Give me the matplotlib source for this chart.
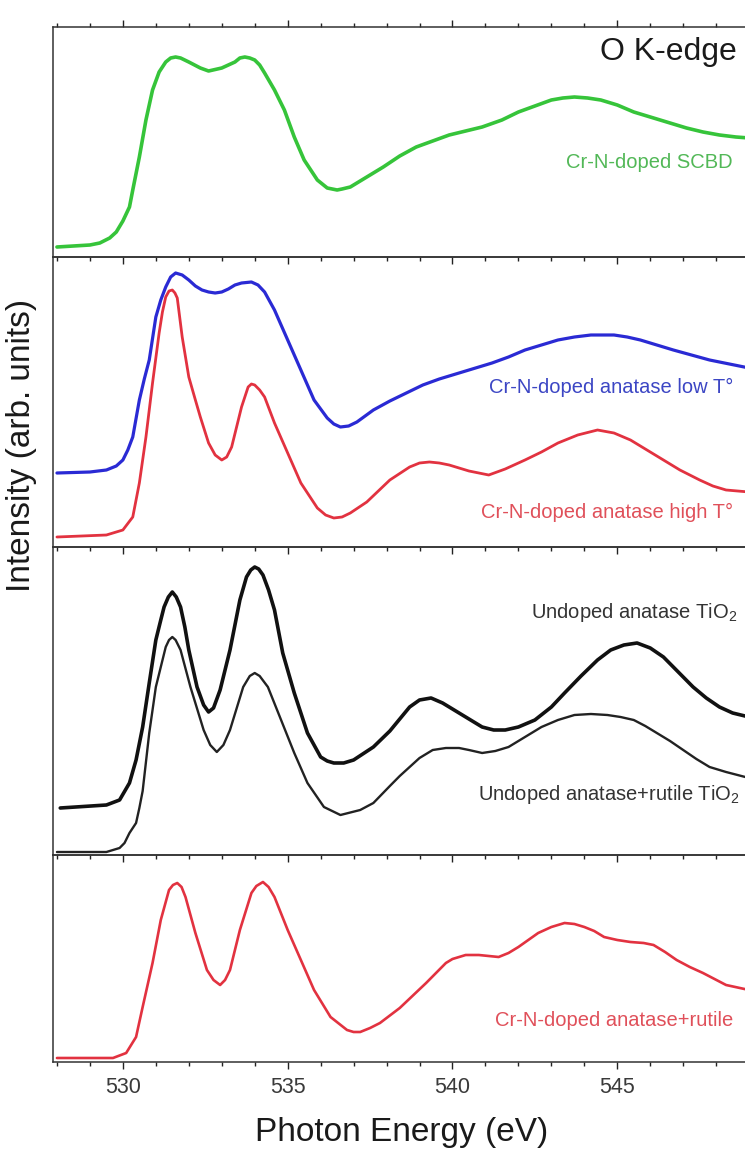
import matplotlib
matplotlib.use("Agg")
import matplotlib.pyplot as plt
from matplotlib.ticker import MultipleLocator

plt.rcParams['font.family'] = ['Liberation Sans', 'DejaVu Sans']
plt.rcParams['mathtext.fontset'] = 'custom'
plt.rcParams['mathtext.rm'] = 'Liberation Sans'
plt.rcParams['mathtext.it'] = 'Liberation Sans:italic'

# ---- O K-edge XAS spectra (photon energy in eV, intensity in arb. units) ----
e_scbd = [528.0, 529.0, 529.3, 529.6, 529.8, 530.0, 530.2, 530.3, 530.5, 530.7,
          530.9, 531.1, 531.3, 531.45, 531.6, 531.75, 532.0, 532.35, 532.6, 533.0,
          533.4, 533.55, 533.7, 533.85, 534.0, 534.15, 534.3, 534.6, 534.9, 535.2,
          535.5, 535.9, 536.2, 536.35, 536.5, 536.65, 536.9, 537.4, 537.9, 538.4,
          538.9, 539.4, 539.9, 540.4, 540.9, 541.5, 542.0, 542.5, 543.0, 543.35,
          543.7, 544.1, 544.5, 545.0, 545.5, 546.0, 546.6, 547.1, 547.6, 548.1,
          548.6, 549.0]
i_scbd = [0.10, 0.12, 0.14, 0.19, 0.25, 0.36, 0.50, 0.67, 1.00, 1.37,
          1.67, 1.85, 1.95, 1.99, 2.00, 1.99, 1.95, 1.89, 1.86, 1.89,
          1.95, 1.99, 2.00, 1.99, 1.97, 1.92, 1.84, 1.67, 1.47, 1.20,
          0.97, 0.77, 0.69, 0.68, 0.67, 0.68, 0.70, 0.80, 0.90, 1.01,
          1.10, 1.16, 1.22, 1.26, 1.30, 1.37, 1.45, 1.51, 1.57, 1.59,
          1.60, 1.59, 1.57, 1.52, 1.45, 1.40, 1.34, 1.29, 1.25, 1.22,
          1.20, 1.19]

e_lowT = [528.0, 529.0, 529.5, 529.8, 530.0, 530.15, 530.3, 530.5, 530.65, 530.8,
          531.0, 531.15, 531.3, 531.45, 531.6, 531.8, 532.0, 532.2, 532.4, 532.6,
          532.8, 533.0, 533.2, 533.4, 533.6, 533.9, 534.1, 534.3, 534.6, 535.0,
          535.4, 535.8, 536.2, 536.4, 536.6, 536.85, 537.1, 537.6, 538.1, 539.1,
          539.6, 540.2, 540.7, 541.2, 541.7, 542.2, 542.7, 543.2, 543.7, 544.2,
          544.9, 545.3, 545.7, 546.2, 546.7, 547.25, 547.8, 548.4, 549.0]
i_lowT = [0.74, 0.75, 0.77, 0.81, 0.87, 0.97, 1.10, 1.47, 1.68, 1.87,
          2.30, 2.47, 2.60, 2.70, 2.74, 2.72, 2.67, 2.61, 2.57, 2.55,
          2.54, 2.55, 2.58, 2.62, 2.64, 2.65, 2.62, 2.55, 2.37, 2.07,
          1.77, 1.47, 1.29, 1.23, 1.20, 1.21, 1.25, 1.37, 1.46, 1.62,
          1.68, 1.74, 1.79, 1.84, 1.90, 1.97, 2.02, 2.07, 2.10, 2.12,
          2.12, 2.10, 2.07, 2.02, 1.97, 1.92, 1.87, 1.83, 1.79]

e_highT = [528.0, 529.5, 530.0, 530.3, 530.5, 530.7, 530.9, 531.1, 531.2, 531.3,
           531.4, 531.5, 531.58, 531.65, 531.8, 532.0, 532.2, 532.35, 532.6, 532.8,
           533.0, 533.15, 533.3, 533.45, 533.6, 533.8, 533.9, 534.0, 534.15, 534.3,
           534.6, 535.0, 535.4, 535.9, 536.15, 536.4, 536.65, 536.9, 537.4, 538.1,
           538.7, 539.0, 539.3, 539.6, 539.9, 540.5, 541.1, 541.6, 542.2, 542.7,
           543.2, 543.8, 544.4, 544.9, 545.4, 546.4, 546.9, 547.5, 547.9, 548.3,
           549.0]
i_highT = [0.10, 0.12, 0.17, 0.30, 0.64, 1.10, 1.64, 2.14, 2.35, 2.50,
           2.56, 2.57, 2.54, 2.49, 2.10, 1.70, 1.47, 1.30, 1.04, 0.92,
           0.87, 0.90, 1.00, 1.20, 1.40, 1.60, 1.63, 1.62, 1.57, 1.50,
           1.24, 0.94, 0.64, 0.39, 0.32, 0.29, 0.30, 0.34, 0.45, 0.67,
           0.80, 0.84, 0.85, 0.84, 0.82, 0.76, 0.72, 0.78, 0.87, 0.95,
           1.04, 1.12, 1.17, 1.14, 1.07, 0.87, 0.77, 0.67, 0.61, 0.57,
           0.55]

e_anatase = [528.1, 529.5, 529.9, 530.2, 530.4, 530.6, 530.8, 531.0, 531.15, 531.25,
             531.38, 531.5, 531.62, 531.75, 531.88, 532.0, 532.25, 532.45, 532.6, 532.75,
             532.95, 533.25, 533.55, 533.75, 533.88, 534.0, 534.12, 534.25, 534.42, 534.6,
             534.85, 535.2, 535.6, 536.0, 536.2, 536.4, 536.7, 537.0, 537.6, 538.1,
             538.4, 538.7, 539.0, 539.35, 539.7, 540.2, 540.55, 540.9, 541.25, 541.6,
             542.0, 542.5, 543.0, 543.4, 543.9, 544.4, 544.8, 545.2, 545.6, 546.0,
             546.4, 546.85, 547.3, 547.7, 548.1, 548.5, 549.0]
i_anatase = [0.47, 0.50, 0.55, 0.72, 0.95, 1.28, 1.72, 2.15, 2.35, 2.48,
             2.58, 2.63, 2.58, 2.48, 2.28, 2.05, 1.68, 1.50, 1.43, 1.47,
             1.65, 2.05, 2.55, 2.78, 2.85, 2.88, 2.86, 2.80, 2.65, 2.45,
             2.02, 1.62, 1.22, 0.98, 0.94, 0.92, 0.92, 0.95, 1.08, 1.24,
             1.36, 1.48, 1.55, 1.57, 1.52, 1.42, 1.35, 1.28, 1.25, 1.25,
             1.28, 1.35, 1.48, 1.62, 1.79, 1.95, 2.05, 2.10, 2.12, 2.07,
             1.98, 1.83, 1.68, 1.57, 1.48, 1.42, 1.38]

e_anat_rut = [528.0, 529.5, 529.9, 530.05, 530.2, 530.4, 530.5, 530.6, 530.8, 531.0,
              531.3, 531.4, 531.5, 531.6, 531.75, 532.05, 532.45, 532.65, 532.85, 533.05,
              533.25, 533.65, 533.85, 534.0, 534.15, 534.4, 534.8, 535.2, 535.6, 536.1,
              536.6, 537.2, 537.6, 538.1, 538.4, 538.7, 539.0, 539.4, 539.8, 540.2,
              540.5, 540.9, 541.3, 541.7, 542.2, 542.7, 543.2, 543.7, 544.2, 544.7,
              545.1, 545.5, 545.85, 546.2, 546.6, 547.0, 547.4, 547.8, 548.3, 549.0]
i_anat_rut = [0.03, 0.03, 0.07, 0.12, 0.22, 0.32, 0.47, 0.64, 1.22, 1.68,
              2.08, 2.15, 2.18, 2.15, 2.05, 1.68, 1.25, 1.10, 1.03, 1.10,
              1.25, 1.68, 1.79, 1.82, 1.79, 1.68, 1.35, 1.02, 0.72, 0.48,
              0.40, 0.45, 0.52, 0.69, 0.79, 0.88, 0.97, 1.05, 1.07, 1.07,
              1.05, 1.02, 1.04, 1.08, 1.18, 1.28, 1.35, 1.40, 1.41, 1.40,
              1.38, 1.35, 1.29, 1.22, 1.14, 1.05, 0.96, 0.88, 0.83, 0.77]

e_crn_ar = [528.0, 529.7, 530.1, 530.4, 530.6, 530.9, 531.15, 531.4, 531.52, 531.65,
            531.78, 531.9, 532.2, 532.55, 532.75, 532.95, 533.1, 533.25, 533.55, 533.9,
            534.05, 534.25, 534.42, 534.6, 535.0, 535.4, 535.8, 536.3, 536.8, 537.0,
            537.2, 537.5, 537.8, 538.4, 539.2, 539.8, 540.0, 540.4, 540.8, 541.4,
            541.7, 542.0, 542.3, 542.6, 543.0, 543.4, 543.7, 544.0, 544.3, 544.6,
            545.0, 545.4, 545.8, 546.1, 546.45, 546.8, 547.2, 547.6, 547.95, 548.3,
            549.0]
i_crn_ar = [0.04, 0.04, 0.09, 0.25, 0.55, 0.99, 1.42, 1.72, 1.77, 1.79,
            1.75, 1.65, 1.29, 0.92, 0.82, 0.77, 0.82, 0.92, 1.32, 1.69,
            1.76, 1.80, 1.75, 1.65, 1.32, 1.02, 0.72, 0.45, 0.32, 0.30,
            0.30, 0.34, 0.39, 0.54, 0.79, 0.99, 1.03, 1.07, 1.07, 1.05,
            1.09, 1.15, 1.22, 1.29, 1.35, 1.39, 1.38, 1.35, 1.31, 1.25,
            1.22, 1.20, 1.19, 1.17, 1.10, 1.02, 0.95, 0.89, 0.83, 0.77,
            0.72]

x_range = (527.88, 548.92)
panel_ymax = [2.30, 2.90, 3.08, 2.07]

GREEN = "#36c43a"
BLUE = "#2a2ad4"
RED = "#e23240"
BLACK = "#111111"

W, H = 745, 1151
fig = plt.figure(figsize=(W / 100, H / 100), dpi=100)

# panel extents in pixels (top, bottom)
rows = [(27, 257), (257, 547), (547, 855), (855, 1062)]
left_px = 53
axes = []
for (top, bot), ymax in zip(rows, panel_ymax):
    ax = fig.add_axes([left_px / W, 1 - bot / H, 1 - left_px / W + 0.002, (bot - top) / H])
    ax.set_xlim(*x_range)
    ax.set_ylim(0, ymax)
    ax.set_yticks([])
    ax.xaxis.set_major_locator(MultipleLocator(5))
    ax.xaxis.set_minor_locator(MultipleLocator(1))
    ax.tick_params(axis='x', which='major', direction='out', length=5, width=1.0,
                   color='#222222', labelbottom=False)
    ax.tick_params(axis='x', which='minor', direction='out', length=3, width=1.0,
                   color='#222222')
    ax.spines['right'].set_visible(False)
    for s in ('left', 'top', 'bottom'):
        ax.spines[s].set_linewidth(1.1)
        ax.spines[s].set_color('#333333')
    ax.patch.set_alpha(0)
    axes.append(ax)

ax1, ax2, ax3, ax4 = axes
ax1.tick_params(axis='x', which='both', top=True)
ax4.tick_params(axis='x', which='major', labelbottom=True, labelsize=15.5,
                labelcolor='#3a3a3a', pad=6)

style = dict(solid_joinstyle='round', solid_capstyle='round')
ax1.plot(e_scbd, i_scbd, color=GREEN, lw=2.6, **style)
ax2.plot(e_lowT, i_lowT, color=BLUE, lw=2.3, **style)
ax2.plot(e_highT, i_highT, color=RED, lw=2.0, **style)
ax3.plot(e_anatase, i_anatase, color=BLACK, lw=2.6, **style)
ax3.plot(e_anat_rut, i_anat_rut, color="#222222", lw=1.7, **style)
ax4.plot(e_crn_ar, i_crn_ar, color=RED, lw=1.9, **style)


def ftext(xp, yp, s, **kw):
    fig.text(xp / W, 1 - yp / H, s, **kw)


ftext(600, 52, "O K-edge", fontsize=23, color="#1a1a1a", ha='left', va='center')
ftext(733, 163, "Cr-N-doped SCBD", fontsize=14.5, color="#52b857", ha='right', va='center')
ftext(733, 387, "Cr-N-doped anatase low T°", fontsize=14.5, color="#3c46c4", ha='right', va='center')
ftext(733, 512, "Cr-N-doped anatase high T°", fontsize=14.5, color="#e0505a", ha='right', va='center')
ftext(737, 612, "Undoped anatase TiO$_2$", fontsize=14.5, color="#333333", ha='right', va='center')
ftext(740, 795, "Undoped anatase+rutile TiO$_2$", fontsize=14.5, color="#333333", ha='right', va='center')
ftext(733, 1020, "Cr-N-doped anatase+rutile", fontsize=14.5, color="#e0505a", ha='right', va='center')

ftext(22, 445, "Intensity (arb. units)", fontsize=24, color="#1a1a1a", rotation=90,
      ha='center', va='center')
ftext(402, 1133, "Photon Energy (eV)", fontsize=24, color="#1a1a1a", ha='center', va='center')

fig.savefig("out.png", dpi=100)
